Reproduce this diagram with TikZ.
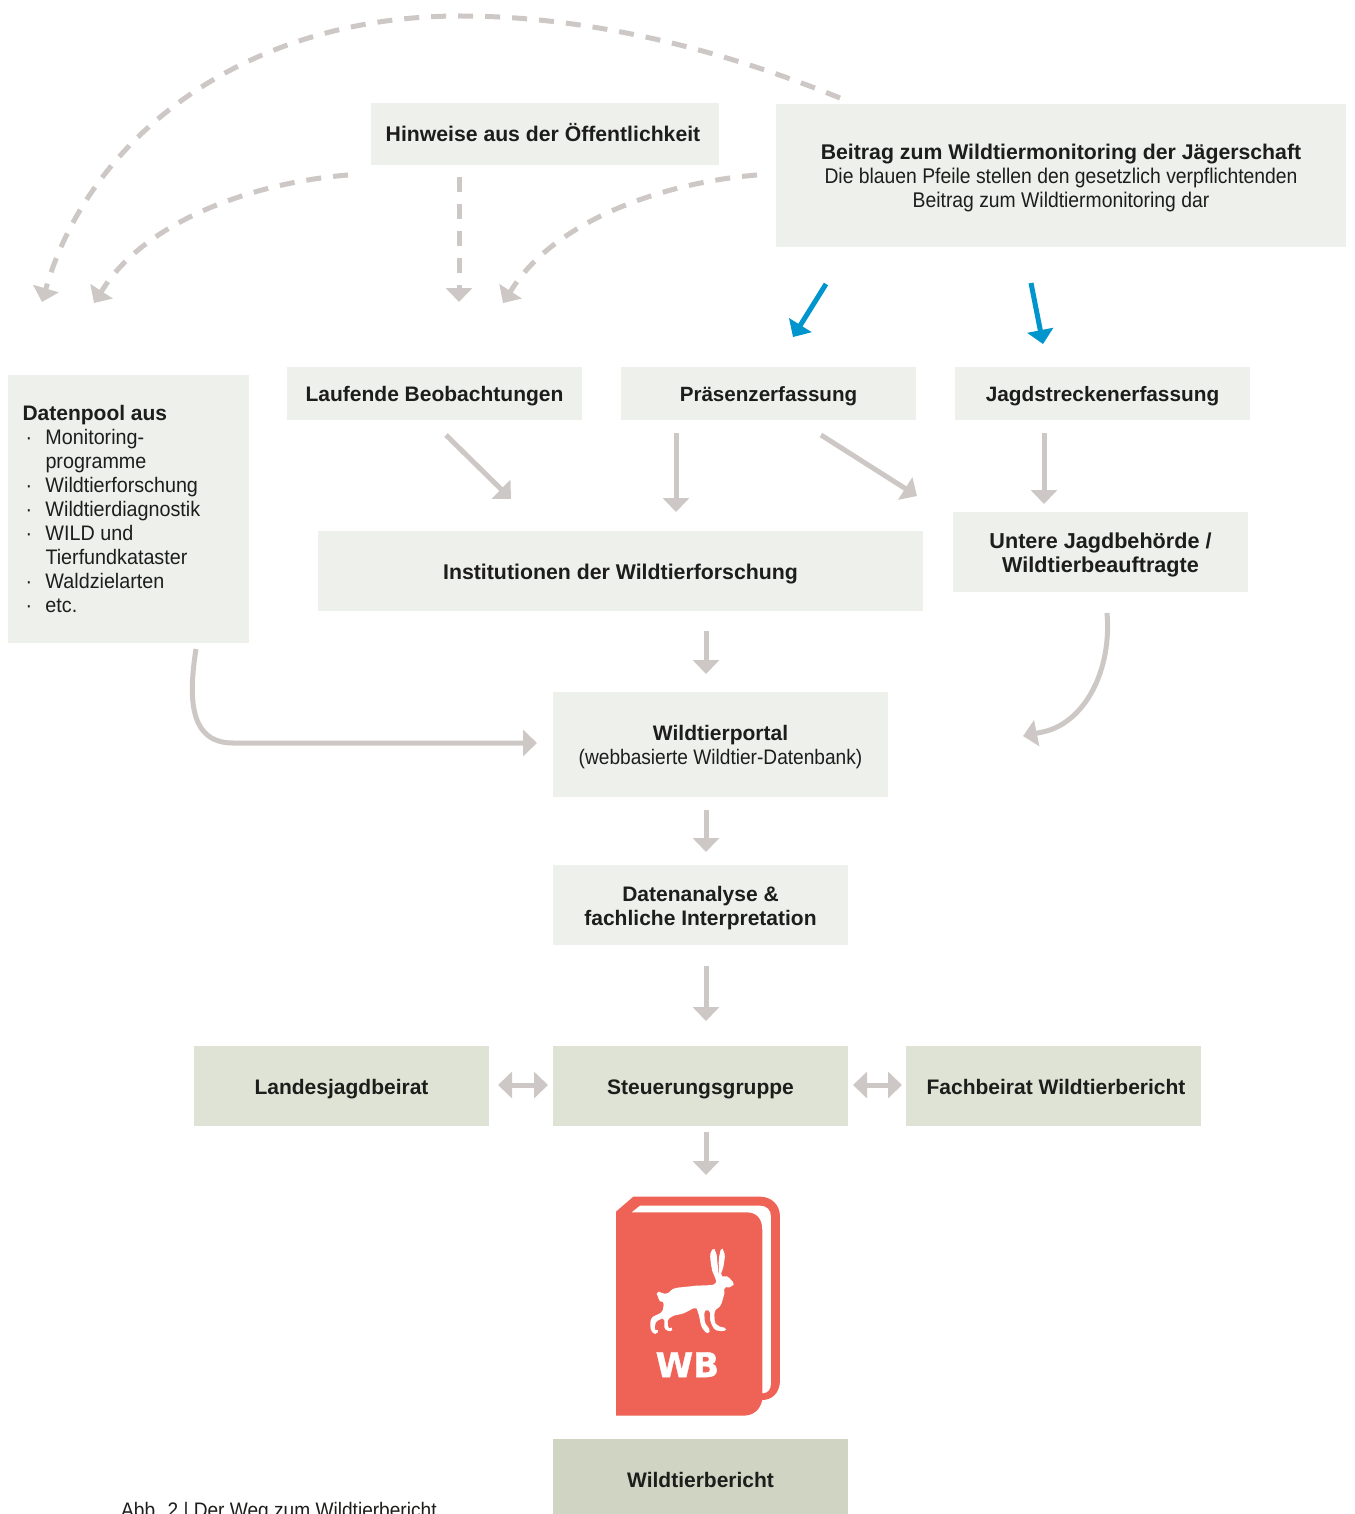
\documentclass[tikz,border=0pt]{standalone}
\usepackage{fontspec}
\usetikzlibrary{arrows.meta,calc}
\setmainfont{Liberation Sans}
\newfontfamily\lightfont[FakeStretch=0.91]{Liberation Sans}
\newfontfamily\poolfont[FakeStretch=0.94]{Liberation Sans}
\newfontfamily\wbfont[BoldFeatures={FakeBold=1.2}]{DejaVu Sans}
\definecolor{paleBox}{HTML}{EEF0EB}
\definecolor{midBox}{HTML}{DFE3D6}
\definecolor{darkBox}{HTML}{D0D4C3}
\definecolor{arrowGrey}{HTML}{CDC8C5}
\definecolor{arrowBlue}{HTML}{0095CC}
\definecolor{bookRed}{HTML}{EF6356}
\definecolor{inkBlack}{HTML}{1D1D1B}
\AtBeginDocument{\setlength{\normallineskiplimit}{-20pt}\setlength{\lineskiplimit}{-20pt}}
\tikzset{
  boxbase/.style={anchor=north west,inner sep=0pt,outer sep=0pt,align=center,text=inkBlack,
    font=\bfseries\fontsize{21}{24}\selectfont},
  fs/.style={font=\bfseries\fontsize{#1}{24}\selectfont},
  palebox/.style={boxbase,fill=paleBox},
  midbox/.style={boxbase,fill=midBox},
  darkbox/.style={boxbase,fill=darkBox},
  greyarrow/.style={draw=arrowGrey,line width=5pt,-{Triangle[length=14pt,width=26pt]}},
  doublearrow/.style={draw=arrowGrey,line width=5pt,{Triangle[length=14pt,width=26pt]}-{Triangle[length=14pt,width=26pt]}},
  dasharrow/.style={greyarrow,dash pattern=on 15pt off 12pt},
  bluearrow/.style={draw=arrowBlue,line width=5pt,-{Triangle[length=14pt,width=26pt]}},
}
\newcommand{\bst}{\vrule width 0pt height 20.6pt depth 4.6pt\relax}
\newcommand{\lightline}[1]{{\lightfont\mdseries #1}}
\newcommand{\poolitem}[1]{\makebox[23pt][l]{\hspace{3pt}·}#1}
\begin{document}
\begin{tikzpicture}[x=1pt,y=-1pt]
\clip (0,0) rectangle (1354,1514);
\useasboundingbox (0,0) rectangle (1354,1514);
\fill[white] (0,0) rectangle (1354,1514);

% boxes
\node[palebox,fs=21.2,minimum width=348pt,minimum height=62pt] (hinweise) at (371,103) {\bst Hinweise aus der Öffentlichkeit\kern4pt};
\node[palebox,fs=21.25,minimum width=570pt,minimum height=143pt] (beitrag) at (776,104) {\bst Beitrag zum Wildtiermonitoring der Jägerschaft\\ \bst\lightline{Die blauen Pfeile stellen den gesetzlich verpflichtenden}\\ \bst\lightline{Beitrag zum Wildtiermonitoring dar}};
\node[palebox,minimum width=241pt,minimum height=268pt,align=left] (pool) at (8,375) {\begin{minipage}[c]{212pt}\fontsize{21}{24}\selectfont Datenpool aus\\
\poolfont\mdseries
\poolitem{Monitoring-}\\
\hspace*{23pt}programme\\
\poolitem{Wildtierforschung}\\
\poolitem{Wildtierdiagnostik}\\
\poolitem{WILD und}\\
\hspace*{23pt}Tierfundkataster\\
\poolitem{Waldzielarten}\\
\poolitem{etc.}\end{minipage}};
\node[palebox,minimum width=295pt,minimum height=53pt] (laufende) at (287,367) {\bst Laufende Beobachtungen};
\node[palebox,fs=20.6,minimum width=295pt,minimum height=53pt] (praesenz) at (621,367) {\bst Präsenzerfassung};
\node[palebox,fs=20.8,minimum width=295pt,minimum height=53pt] (jagd) at (955,367) {\bst Jagdstreckenerfassung};
\node[palebox,fs=21.3,minimum width=605pt,minimum height=80pt] (inst) at (318,531) {\bst Institutionen der Wildtierforschung};
\node[palebox,fs=21.6,minimum width=295pt,minimum height=80pt] (untere) at (953,512) {\bst Untere Jagdbehörde /\\ \bst Wildtierbeauftragte};
\node[palebox,minimum width=335pt,minimum height=105pt] (portal) at (553,692) {\bst Wildtierportal\\ \bst\lightline{(webbasierte Wildtier-Datenbank)}};
\node[palebox,minimum width=295pt,minimum height=80pt] (analyse) at (553,865) {\bst Datenanalyse \&\\ \bst fachliche Interpretation};
\node[midbox,minimum width=295pt,minimum height=80pt] (landes) at (194,1046) {\bst Landesjagdbeirat};
\node[midbox,minimum width=295pt,minimum height=80pt] (steuer) at (553,1046) {\bst Steuerungsgruppe};
\node[midbox,minimum width=295pt,minimum height=80pt] (fach) at (906,1046) {\bst\kern5pt Fachbeirat Wildtierbericht};
\node[darkbox,minimum width=295pt,minimum height=80pt] (bericht) at (553,1439) {\bst Wildtierbericht};
\node[anchor=base west,inner sep=0pt,text=inkBlack,font=\lightfont\fontsize{21}{24}\selectfont] (caption) at (121,1517) {Abb. 2 | Der Weg zum Wildtierbericht};

% free connector ends
\coordinate (dAs) at (840,98);
\coordinate (dAm) at (460,16);
\coordinate (dAk) at (47.6,283);
\coordinate (dAe) at (42,302);
\coordinate (dBs) at (348,175);
\coordinate (dBk) at (105,286);
\coordinate (dBe) at (94,303);
\coordinate (dCs) at (459,177);
\coordinate (dCe) at (459,302);
\coordinate (dDs) at (757,175);
\coordinate (dDk) at (514,286);
\coordinate (dDe) at (503,303);
\coordinate (bAs) at (826,284);
\coordinate (bAe) at (793,337);
\coordinate (bBs) at (1031,283);
\coordinate (bBe) at (1043,344);
\coordinate (gAs) at (446,435);
\coordinate (gAe) at (511,499);
\coordinate (gBs) at (676,433);
\coordinate (gBe) at (676,512);
\coordinate (gCs) at (821,435);
\coordinate (gCe) at (917,496);
\coordinate (gDs) at (1044,433);
\coordinate (gDe) at (1044,504);
\coordinate (gEs) at (706,631);
\coordinate (gEe) at (706,674);
\coordinate (gFs) at (1107,613);
\coordinate (gFk) at (1042.6,732);
\coordinate (gFe) at (1023,736);
\coordinate (gGs) at (196,649);
\coordinate (gGm) at (233,743);
\coordinate (gGe) at (537,743);
\coordinate (gHs) at (706,810);
\coordinate (gHe) at (706,852);
\coordinate (gIs) at (706,966);
\coordinate (gIe) at (706,1021);
\coordinate (gJs) at (498,1085);
\coordinate (gJe) at (548,1085);
\coordinate (gKs) at (853,1085);
\coordinate (gKe) at (902,1085);
\coordinate (gLs) at (706,1132);
\coordinate (gLe) at (706,1175);

% dashed arrows
\draw[dasharrow] (dAs) .. controls (710,45) and (580,16) .. (dAm) .. controls (250,16) and (94,132) .. (dAk) -- (dAe);
\draw[dasharrow] (dBs) .. controls (250,183) and (148,222) .. (dBk) -- (dBe);
\draw[dasharrow] (dCs) -- (dCe);
\draw[dasharrow] (dDs) .. controls (659,183) and (557,222) .. (dDk) -- (dDe);

% blue arrows
\draw[bluearrow] (bAs) -- (bAe);
\draw[bluearrow] (bBs) -- (bBe);

% grey arrows
\draw[greyarrow] (gAs) -- (gAe);
\draw[greyarrow] (gBs) -- (gBe);
\draw[greyarrow] (gCs) -- (gCe);
\draw[greyarrow] (gDs) -- (gDe);
\draw[greyarrow] (gEs) -- (gEe);
\draw[greyarrow] (gFs) .. controls (1112,670) and (1085,723) .. (gFk) -- (gFe);
\draw[greyarrow] (gGs) .. controls (188,700) and (190,743) .. (gGm) -- (gGe);
\draw[greyarrow] (gHs) -- (gHe);
\draw[greyarrow] (gIs) -- (gIe);
\draw[doublearrow] (gJs) -- (gJe);
\draw[doublearrow] (gKs) -- (gKe);
\draw[greyarrow] (gLs) -- (gLe);

% book
\begin{scope}[shift={(600,1180)},x=0.3333pt,y=-0.3333pt]
\fill[bookRed] (48,95) -- (100,50) -- (480,50) .. controls (515,50) and (540,75) .. (540,110) -- (540,600) .. controls (540,640) and (515,660) .. (487,660) .. controls (480,690) and (460,707) .. (430,707) -- (48,707) -- cycle;
\fill[white] (95,97) -- (120,77) -- (480,77) .. controls (500,77) and (513,90) .. (513,110) -- (513,610) .. controls (513,628) and (503,640) .. (487,640) -- (487,150) .. controls (487,115) and (470,97) .. (440,97) -- cycle;
\fill[white,rounded corners=1.5pt] plot[smooth cycle,tension=0.45] coordinates {
(345,310) (335,265) (331,225) (340,208) (349,222) (353,255) (356,282) (357,235) (365,208) (374,225) (371,255) (365,285)
(385,292) (400,310) (392,320) (375,325) (372,345) (362,375) (345,395) (345,425) (355,437) (376,446) (368,453) (345,448) (332,425) (328,395) (315,395) (315,425) (328,450) (320,458) (305,440) (295,400) (285,385) (250,400) (220,408) (205,420) (205,440) (216,447) (208,453) (195,445) (190,418) (170,425) (165,445) (173,455) (162,460) (152,445) (155,415) (185,395) (190,370) (178,360) (173,338) (200,340) (225,325) (280,318)};
\node[inner sep=0pt,text=white,font=\wbfont\bfseries\fontsize{34}{34}\selectfont] (wb) at (262,554) {WB};
\end{scope}
\end{tikzpicture}
\end{document}
